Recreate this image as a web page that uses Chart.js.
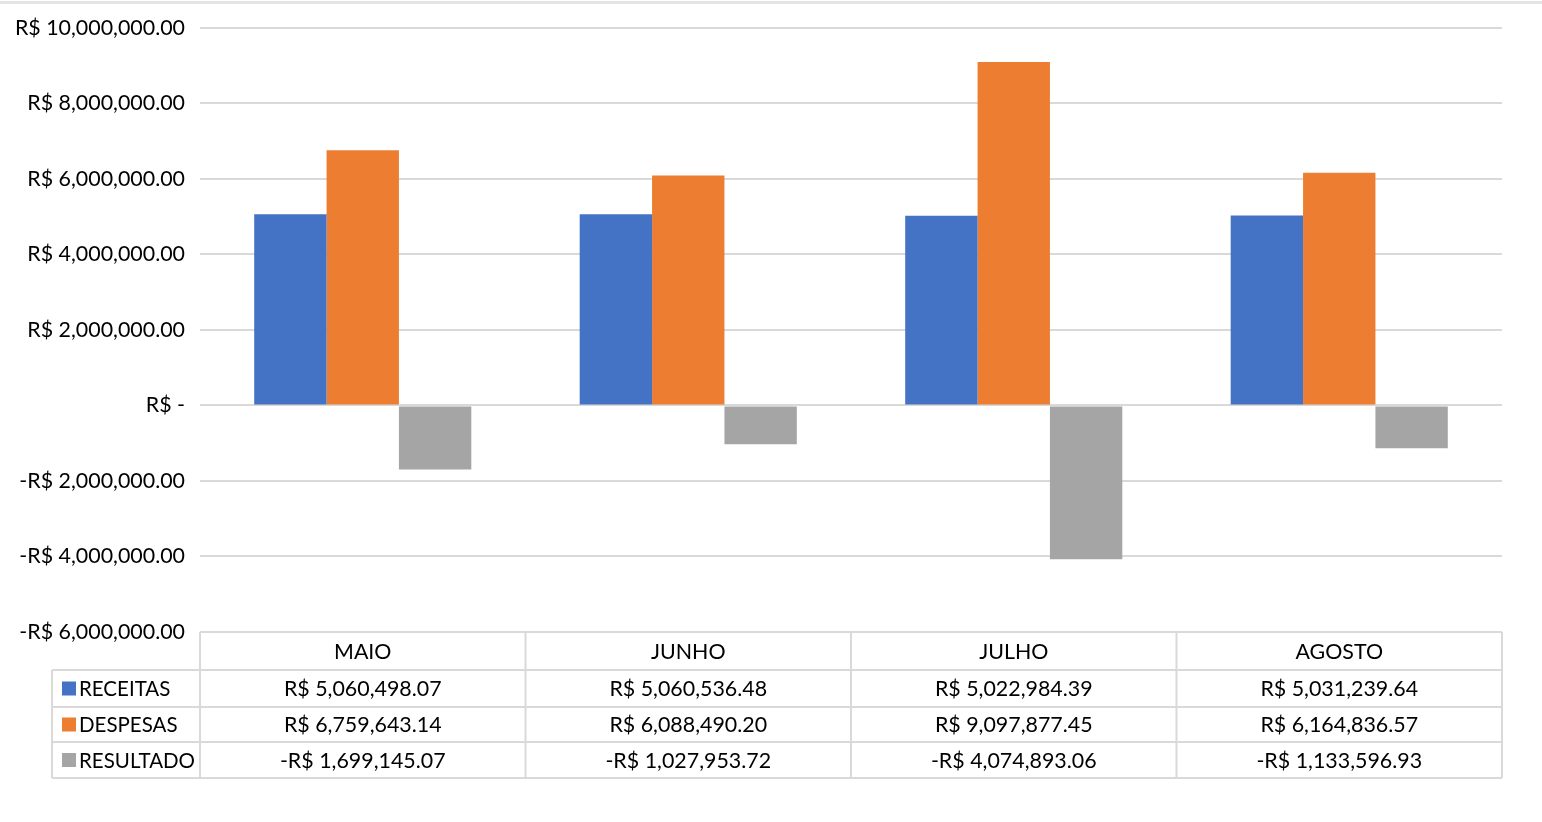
<!DOCTYPE html>
<html>
<head>
<meta charset="utf-8">
<script src="https://cdn.jsdelivr.net/npm/chart.js@4/dist/chart.umd.min.js"></script>
<style>
  html, body { margin: 0; padding: 0; background: #fff; }
  #wrap { position: relative; width: 1542px; height: 822px; }
  #topline { position: absolute; left: 0; top: 1px; width: 1542px; height: 3px; background: #e4e4e4; }
</style>
</head>
<body>
<div id="wrap">
  <canvas id="chart" width="1542" height="822"></canvas>
  <div id="topline"></div>
</div>
<script>
const months = ["MAIO", "JUNHO", "JULHO", "AGOSTO"];
const receitas = [5060498.07, 5060536.48, 5022984.39, 5031239.64];
const despesas = [6759643.14, 6088490.20, 9097877.45, 6164836.57];
const resultado = [-1699145.07, -1027953.72, -4074893.06, -1133596.93];
const seriesNames = ["RECEITAS", "DESPESAS", "RESULTADO"];
const seriesColors = ["#4472c4", "#ed7d31", "#a5a5a5"];

const FONT = "Lato, 'Open Sans', sans-serif";
const FONT_SIZE = 21.4;

function brl(v) {
    if (v === 0) return "R$ -";
    let s = Math.abs(v).toLocaleString("en-US", { minimumFractionDigits: 2, maximumFractionDigits: 2 });
    return (v < 0 ? "-R$ " : "R$ ") + s;
}

// draws the Excel style data table under the plot
const dataTable = {
    id: "dataTable",
    afterDraw(chart) {
        let ctx = chart.ctx;
        let x = chart.scales.x;
        let area = chart.chartArea;
        let colW = (area.right - area.left) / months.length;
        let rows = [area.bottom, area.bottom + 38, area.bottom + 75, area.bottom + 110, area.bottom + 146];
        let legendLeft = 52;

        ctx.save();
        ctx.strokeStyle = "#d9d9d9";
        ctx.lineWidth = 2;

        // horizontal lines
        ctx.beginPath();
        ctx.moveTo(area.left, rows[0]); ctx.lineTo(area.right, rows[0]);
        for (let r = 1; r < rows.length; r++) {
            ctx.moveTo(legendLeft, rows[r]); ctx.lineTo(area.right, rows[r]);
        }
        // vertical lines
        for (let i = 0; i <= months.length; i++) {
            let px = area.left + i * colW;
            ctx.moveTo(px, rows[0]); ctx.lineTo(px, rows[4]);
        }
        ctx.moveTo(legendLeft, rows[1]); ctx.lineTo(legendLeft, rows[4]);
        ctx.stroke();

        ctx.fillStyle = "#000";
        ctx.font = FONT_SIZE + "px " + FONT;
        ctx.textBaseline = "middle";
        ctx.textAlign = "center";
        months.forEach((m, i) => {
            ctx.fillText(m, x.getPixelForValue(i), (rows[0] + rows[1]) / 2 + 1);
        });

        chart.data.datasets.forEach((ds, r) => {
            let cy = (rows[r + 1] + rows[r + 2]) / 2 + 1;
            ctx.font = FONT_SIZE + "px " + FONT;
            ctx.textAlign = "center";
            ctx.fillStyle = "#000";
            ds.data.forEach((v, i) => {
                ctx.fillText(brl(v), x.getPixelForValue(i), cy);
            });
            ctx.fillStyle = ds.backgroundColor;
            ctx.fillRect(62, cy - 8, 14, 14);
            ctx.fillStyle = "#000";
            ctx.textAlign = "left";
            ctx.font = "20.5px " + FONT;
            ctx.fillText(ds.label, 79, cy);
        });
        ctx.restore();
    }
};

new Chart(document.getElementById("chart"), {
    type: "bar",
    data: {
        labels: months,
        datasets: [
            { label: seriesNames[0], data: receitas, backgroundColor: seriesColors[0] },
            { label: seriesNames[1], data: despesas, backgroundColor: seriesColors[1] },
            { label: seriesNames[2], data: resultado, backgroundColor: seriesColors[2] }
        ]
    },
    options: {
        responsive: false,
        animation: false,
        layout: { padding: { left: 0, right: 40, top: 26, bottom: 190 } },
        datasets: { bar: { categoryPercentage: 0.667, barPercentage: 1 } },
        plugins: { legend: { display: false }, tooltip: { enabled: false } },
        scales: {
            x: { display: false },
            y: {
                min: -6000000,
                max: 10000000,
                afterFit(scale) { scale.width = 200; },
                border: { display: false },
                grid: { color: "#d9d9d9", lineWidth: 2, drawTicks: false },
                ticks: {
                    stepSize: 2000000,
                    padding: 15,
                    color: "#000",
                    font: { family: FONT, size: FONT_SIZE },
                    callback: v => brl(v)
                }
            }
        }
    },
    plugins: [dataTable]
});
</script>
</body>
</html>
